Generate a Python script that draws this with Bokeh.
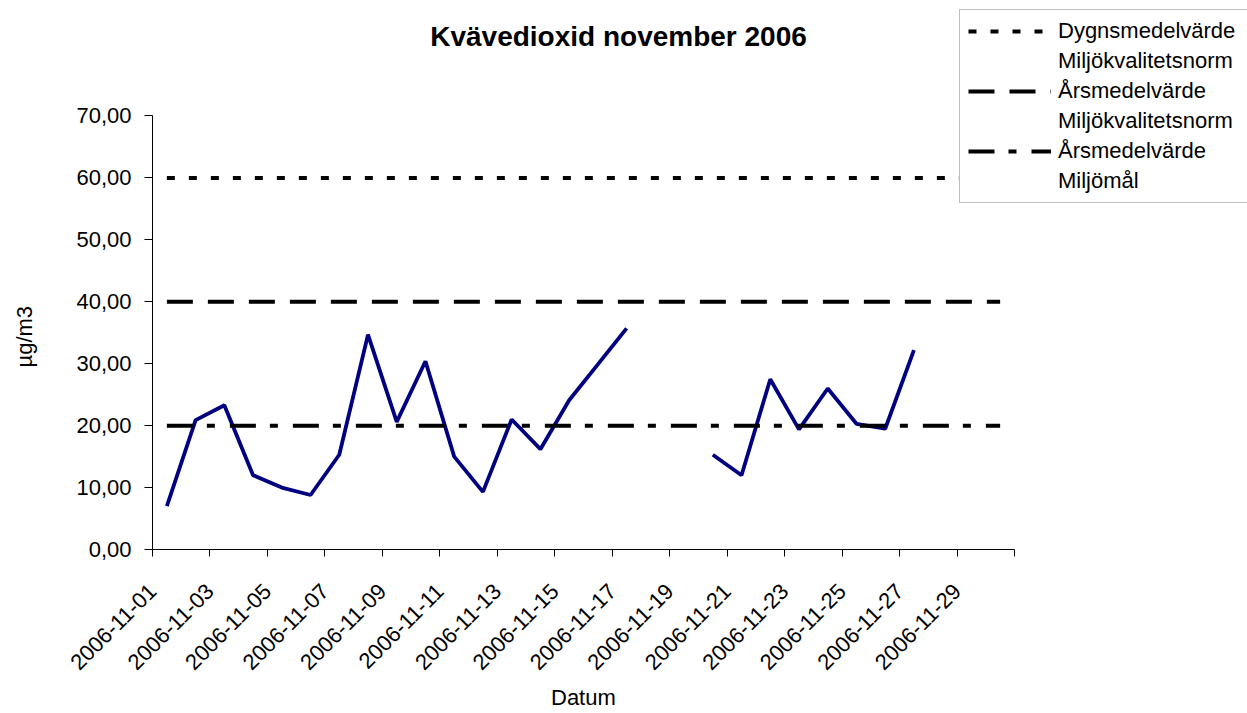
import math
import numpy as np
from bokeh.plotting import figure
from bokeh.models import Range1d, FixedTicker, Legend, LegendItem, Label, Title
from bokeh.embed import file_html
from bokeh.resources import INLINE

# ---------------- data ----------------
days = list(range(1, 31))
no2 = [7.0, 20.9, 23.3, 12.0, 10.0, 8.8, 15.3, 34.7, 20.6, 30.4,
       15.0, 9.3, 21.0, 16.2, 24.1, 29.9, 35.7, None, None, 15.3,
       12.0, 27.5, 19.4, 26.0, 20.3, 19.5, 32.2, None, None, None]

limit_days = [1, 30]
dygn_norm = [60, 60]
ars_norm = [40, 40]
ars_mal = [20, 20]

x_tick_labels = ["2006-11-01", "2006-11-03", "2006-11-05", "2006-11-07",
                 "2006-11-09", "2006-11-11", "2006-11-13", "2006-11-15",
                 "2006-11-17", "2006-11-19", "2006-11-21", "2006-11-23",
                 "2006-11-25", "2006-11-27", "2006-11-29", ""]
y_ticks = [0, 10, 20, 30, 40, 50, 60, 70]
y_tick_labels = ["0,00", "10,00", "20,00", "30,00", "40,00", "50,00", "60,00", "70,00"]

legend_labels = ["Dygnsmedelvärde", "Miljökvalitetsnorm",
                 "Årsmedelvärde", "Miljökvalitetsnorm",
                 "Årsmedelvärde", "Miljömål"]

title_text = "Kvävedioxid november 2006"
x_label = "Datum"
y_label = "µg/m3"

# --------------- layout ---------------
FONT = "Liberation Sans"
W, H = 1247, 713
AX_LEFT, AX_RIGHT = 152, 1014      # pixel extent of the x axis
AX_TOP, AX_BOTTOM = 115.7, 550     # pixel extent of the y axis
y_min, y_max = y_ticks[0], y_ticks[-1]
x_min, x_max = days[0] - 0.5, days[-1] + 0.5

# the frame covers the whole area right of / above the axes so the legend and
# title (drawn inside it) are never clipped; the axes are limited with bounds
x_end = x_min + (x_max - x_min) * (W - AX_LEFT) / (AX_RIGHT - AX_LEFT)
y_end = y_min + (y_max - y_min) * AX_BOTTOM / (AX_BOTTOM - AX_TOP)

x_ticks = [d - 0.5 for d in days[::2]] + [x_max]
no2_y = [np.nan if v is None else v for v in no2]

p = figure(width=W, height=H,
           x_range=Range1d(x_min, x_end), y_range=Range1d(y_min, y_end),
           output_backend="svg", toolbar_location=None, title=None,
           min_border_left=AX_LEFT, min_border_right=0,
           min_border_top=0, min_border_bottom=H - AX_BOTTOM)
p.outline_line_color = None
p.xgrid.visible = False
p.ygrid.visible = False
p.background_fill_color = "white"
p.border_fill_color = "white"

# series
p.line(days, no2_y, line_color="#000080", line_width=3.8)
r60 = p.line(limit_days, dygn_norm, line_color="black", line_width=4, line_dash="8 14")
r40 = p.line(limit_days, ars_norm, line_color="black", line_width=4, line_dash="26 15")
r20 = p.line(limit_days, ars_mal, line_color="black", line_width=4, line_dash="26 14 8 15")
blank = p.line([], [], line_alpha=0)

# axes
xa = p.xaxis[0]
xa.bounds = (x_min, x_max)
xa.ticker = FixedTicker(ticks=x_ticks, minor_ticks=[])
xa.major_label_overrides = {float(t): lab for t, lab in zip(x_ticks, x_tick_labels)}
xa.major_label_orientation = math.pi / 4
xa.major_tick_in = 0
xa.major_tick_out = 7
xa.major_label_standoff = 31

ya = p.yaxis[0]
ya.bounds = (y_min, y_max)
ya.ticker = FixedTicker(ticks=y_ticks, minor_ticks=[])
ya.major_label_overrides = dict(zip(y_ticks, y_tick_labels))
ya.major_tick_in = 0
ya.major_tick_out = 8
ya.major_label_standoff = 13
ya.axis_label = " "          # reserves room; the visible label is a Title beside it
ya.axis_label_standoff = 8

for ax in (xa, ya):
    ax.axis_line_color = "black"
    ax.axis_line_width = 1
    ax.major_tick_line_color = "black"
    ax.minor_tick_line_color = None
    ax.major_label_text_font = FONT
    ax.major_label_text_font_size = "22px"
    ax.major_label_text_color = "black"
    ax.axis_label_text_font = FONT
    ax.axis_label_text_font_size = "22px"
    ax.axis_label_text_font_style = "normal"

# axis titles, centred on the axes' own extent
p.add_layout(Title(text=x_label, align="left", offset=398.5, vertical_align="bottom",
                   standoff=7, text_font=FONT, text_font_size="22px",
                   text_font_style="normal", text_color="black"), "below")
p.add_layout(Title(text=y_label, align="left", offset=182, vertical_align="bottom",
                   standoff=2, text_font=FONT, text_font_size="22px",
                   text_font_style="normal", text_color="black"), "left")

# chart title
p.add_layout(Label(text=title_text, x=618 - AX_LEFT, y=AX_BOTTOM - 37,
                   x_units="screen", y_units="screen",
                   text_align="center", text_baseline="alphabetic",
                   text_font=FONT, text_font_size="28px", text_font_style="bold",
                   text_color="black"))

# legend
renderers = [r60, blank, r40, blank, r20, blank]
items = [LegendItem(label=lab, renderers=[r]) for lab, r in zip(legend_labels, renderers)]
legend = Legend(items=items, location=(959 - AX_LEFT, AX_BOTTOM - 204),
                orientation="vertical",
                label_text_font=FONT, label_text_font_size="22px", label_text_color="black",
                glyph_width=83, glyph_height=24, label_height=24, label_width=200,
                label_standoff=7, spacing=4, padding=8, margin=0,
                border_line_color="#808080", border_line_width=1,
                background_fill_color="white", background_fill_alpha=1.0)
p.add_layout(legend, "center")

open("out.html", "w").write(file_html(p, INLINE))
